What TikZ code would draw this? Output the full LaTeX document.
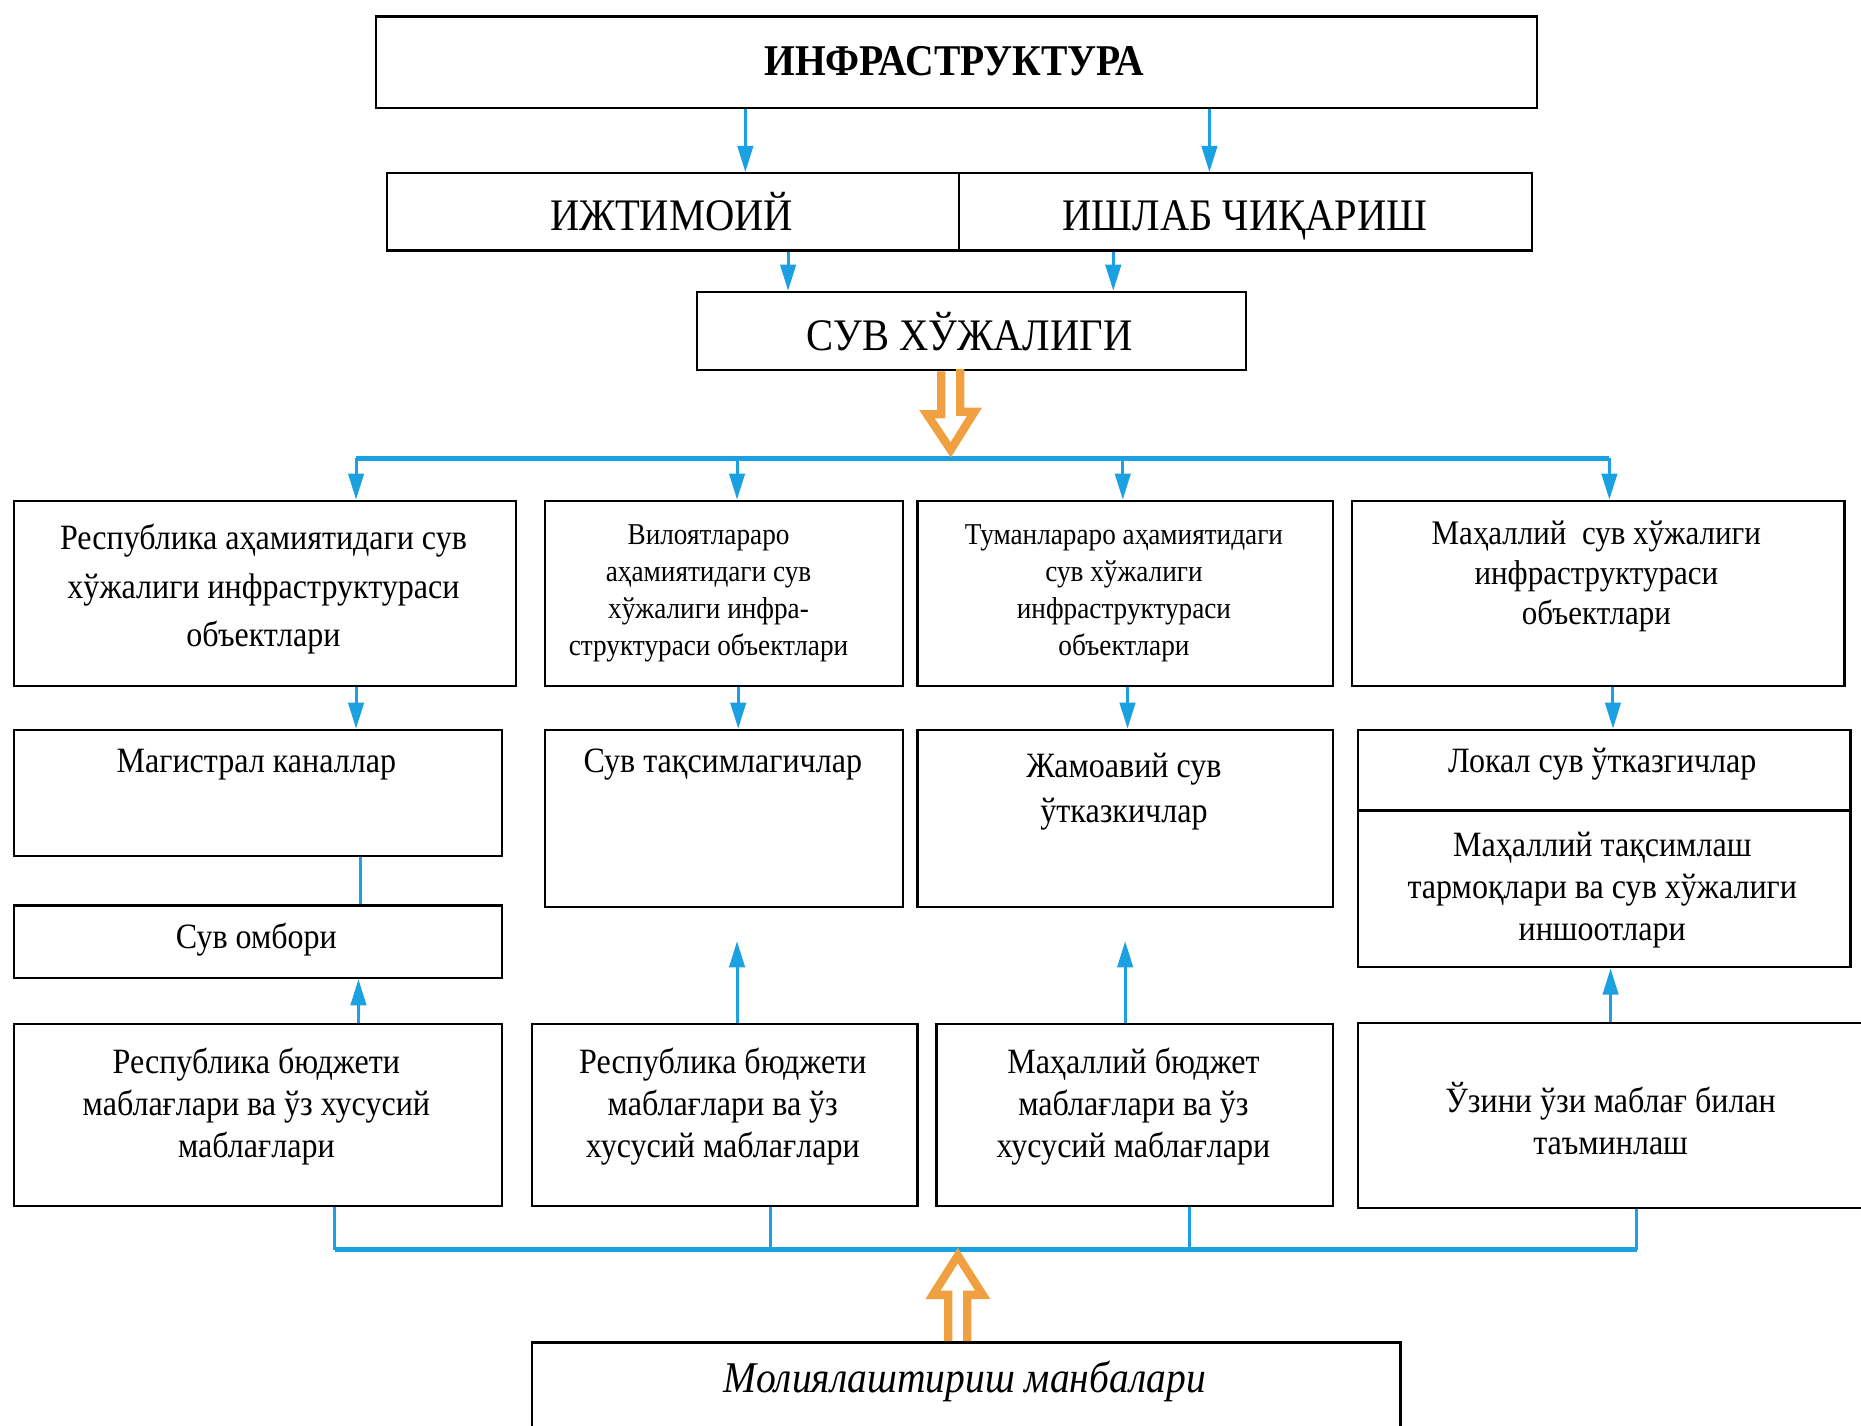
\documentclass[tikz,border=0pt]{standalone}
\usepackage{fontspec}
\setmainfont{Liberation Serif}[FakeStretch=0.9]
\usetikzlibrary{arrows.meta,calc}
\definecolor{cblue}{RGB}{27,161,226}
\definecolor{corange}{RGB}{240,160,64}
\tikzset{
  box/.style={draw=black, line width=2pt, inner sep=0pt, anchor=north west, align=center},
  txt/.style={inner sep=0pt, align=center, anchor=base},
  barrow/.style={draw=cblue, line width=2.5pt, -{Triangle[length=22pt,width=13pt]}},
  bline/.style={draw=cblue, line width=2.5pt},
  bus/.style={draw=cblue, line width=4pt},
  harrow/.style={draw=corange, line width=7pt, line join=miter},
  fH/.style={font=\fontsize{38}{40}\selectfont},
  fA/.style={font=\fontsize{30}{41}\selectfont},
  fB/.style={font=\fontsize{25.5}{31}\selectfont},
  fD/.style={font=\fontsize{29}{33.5}\selectfont},
  fC/.style={font=\fontsize{30}{37.7}\selectfont},
  fE/.style={font=\fontsize{30}{35.3}\selectfont},
}
\begin{document}
\begin{tikzpicture}[x=1pt,y=-1pt]
\useasboundingbox (0,0) rectangle (1568,1201);
% boxes (multi-line texts are placed by the baseline of their last line)
\node[box, minimum width=978pt, minimum height=77pt] (top) at (316,13) {};
\node[txt, font=\fontsize{37}{40}\selectfont\bfseries] (topt) at (804,64) {ИНФРАСТРУКТУРА};
\node[box, minimum width=482pt, minimum height=65pt] (soc) at (325,145) {};
\node[box, minimum width=483pt, minimum height=65pt] (prod) at (807,145) {};
\node[txt, fH] (soct) at (566,194) {ИЖТИМОИЙ};
\node[txt, fH] (prodt) at (1049,194) {ИШЛАБ ЧИҚАРИШ};
\node[box, minimum width=463pt, minimum height=66pt] (suv) at (586,245) {};
\node[txt, fH] (suvt) at (817,295) {СУВ ХЎЖАЛИГИ};
% row 3
\node[box, minimum width=423pt, minimum height=156pt] (ra) at (11,421) {};
\node[txt, fA] (rat) at (222,545) {Республика аҳамиятидаги сув\\хўжалиги инфраструктураси\\объектлари};
\node[box, minimum width=302pt, minimum height=156pt] (rb) at (458,421) {};
\node[txt, fB] (rbt) at (597,552) {Вилоятлараро\\аҳамиятидаги сув\\хўжалиги инфра-\\структураси объектлари};
\node[box, minimum width=350pt, minimum height=156pt] (rc) at (772,421) {};
\node[txt, fB] (rct) at (947,552) {Туманлараро аҳамиятидаги\\сув хўжалиги\\инфраструктураси\\объектлари};
\node[box, minimum width=415pt, minimum height=156pt] (rd) at (1138,421) {};
\node[txt, fD] (rdt) at (1345,526) {Маҳаллий\ \ сув хўжалиги\\инфраструктураси\\объектлари};
% row 4
\node[box, minimum width=411pt, minimum height=106pt] (qa) at (11,614) {};
\node[txt, fA] (qat) at (216,651) {Магистрал каналлар};
\node[box, minimum width=302pt, minimum height=149pt] (qb) at (458,614) {};
\node[txt, fA] (qbt) at (609,651) {Сув тақсимлагичлар};
\node[box, minimum width=350pt, minimum height=149pt] (qc) at (772,614) {};
\node[txt, fC] (qct) at (947,693) {Жамоавий сув\\ўтказкичлар};
\node[box, minimum width=415pt, minimum height=68pt] (qd1) at (1143,614) {};
\node[txt, fA] (qd1t) at (1350,651) {Локал сув ўтказгичлар};
\node[box, minimum width=415pt, minimum height=132pt] (qd2) at (1143,682) {};
\node[txt, fE] (qd2t) at (1350,792) {Маҳаллий тақсимлаш\\тармоқлари ва сув хўжалиги\\иншоотлари};
\node[box, minimum width=411pt, minimum height=61pt] (omb) at (11,762) {};
\node[txt, fA] (ombt) at (216,799) {Сув омбори};
% row 5
\node[box, minimum width=411pt, minimum height=153pt] (pa) at (11,862) {};
\node[txt, fE] (pat) at (216,975) {Республика бюджети\\маблағлари ва ўз хусусий\\маблағлари};
\node[box, minimum width=325pt, minimum height=153pt] (pb) at (447,862) {};
\node[txt, fE] (pbt) at (609,975) {Республика бюджети\\маблағлари ва ўз\\хусусий маблағлари};
\node[box, minimum width=334pt, minimum height=153pt] (pc) at (788,862) {};
\node[txt, fE] (pct) at (955,975) {Маҳаллий бюджет\\маблағлари ва ўз\\хусусий маблағлари};
\node[box, minimum width=440pt, minimum height=156pt] (pd) at (1143,861) {};
\node[txt, fE] (pdt) at (1357,973) {Ўзини ўзи маблағ билан\\таъминлаш};
% bottom
\node[box, minimum width=732pt, minimum height=100pt] (mol) at (447,1130) {};
\node[txt, font=\fontsize{37}{40}\selectfont\itshape] (molt) at (813,1173) {Молиялаштириш манбалари};
% column coordinates
\coordinate (x1) at (628,0); \coordinate (x2) at (1019,0);
\coordinate (x3) at (664,0); \coordinate (x4) at (938,0);
\coordinate (busL) at (300,386); \coordinate (busR) at (1356,386);
\coordinate (ca) at (300,0); \coordinate (cb) at (621,0); \coordinate (cc) at (946,0); \coordinate (cd) at (1356,0);
\coordinate (da) at (300,0); \coordinate (db) at (622,0); \coordinate (dc) at (950,0); \coordinate (dd) at (1359,0);
\coordinate (ea) at (304,0);
\coordinate (ua) at (302,0); \coordinate (ub) at (621,793); \coordinate (uc) at (948,793); \coordinate (ud) at (1357,0);
\coordinate (la) at (282,1053); \coordinate (lb) at (649,0); \coordinate (lc) at (1002,0); \coordinate (ld) at (1379,1053);
% connectors
\draw[barrow] (x1 |- top.south) -- (x1 |- soc.north);
\draw[barrow] (x2 |- top.south) -- (x2 |- prod.north);
\draw[barrow] (x3 |- soc.south) -- (x3 |- suv.north);
\draw[barrow] (x4 |- prod.south) -- (x4 |- suv.north);
\draw[bus] (busL) -- (busR);
\foreach \c/\b in {ca/ra, cb/rb, cc/rc, cd/rd}{
  \draw[barrow] (\c |- busL) -- (\c |- \b.north);
}
\draw[barrow] (da |- ra.south) -- (da |- qa.north);
\draw[barrow] (db |- rb.south) -- (db |- qb.north);
\draw[barrow] (dc |- rc.south) -- (dc |- qc.north);
\draw[barrow] (dd |- rd.south) -- (dd |- qd1.north);
\draw[bline] (ea |- qa.south) -- (ea |- omb.north);
\draw[barrow] (ua |- pa.north) -- (ua |- omb.south);
\draw[barrow] (ub |- pb.north) -- (ub);
\draw[barrow] (uc |- pc.north) -- (uc);
\draw[barrow] (ud |- pd.north) -- (ud |- qd2.south);
\draw[bline] (la |- pa.south) -- (la);
\draw[bline] (lb |- pb.south) -- (lb |- la);
\draw[bline] (lc |- pc.south) -- (lc |- la);
\draw[bline] (ld |- pd.south) -- (ld);
\draw[bus] (la) -- (ld);
% orange hollow arrows
\coordinate (oa) at (801,379);
\draw[harrow] (oa |- suv.south) ++(-8,0) -- ++(0,36) -- ++(-12,0) -- (oa) -- ++(20,-32) -- ++(-12,0) -- ++(0,-36);
\coordinate (ob) at (807,1058);
\draw[harrow] (ob |- mol.north) ++(-8,0) -- ++(0,-39) -- ++(-13,0) -- (ob) -- ++(21,33) -- ++(-13,0) -- ++(0,39);
\end{tikzpicture}
\end{document}
